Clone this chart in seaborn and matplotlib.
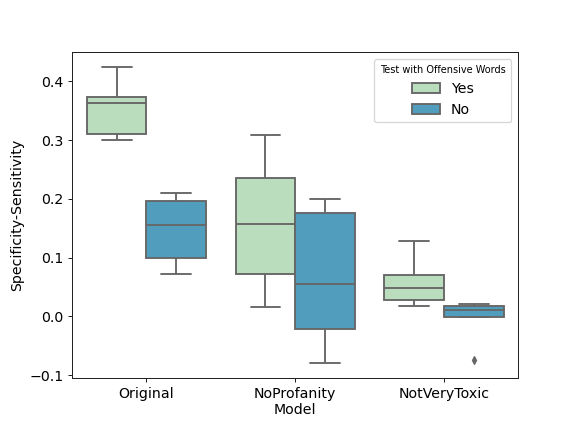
import matplotlib
matplotlib.use("Agg")
import matplotlib.pyplot as plt
import pandas as pd
import seaborn as sns

sns.set_style("white")
plt.rcParams['font.family'] = ['DejaVu Sans']
plt.rcParams['text.color'] = 'black'
plt.rcParams['axes.labelcolor'] = 'black'
plt.rcParams['xtick.color'] = 'black'
plt.rcParams['ytick.color'] = 'black'

models = ['Original', 'NoProfanity', 'NotVeryToxic']
hue_levels = ['Yes', 'No']

# five-number samples per box (min, q1, median, q3, max)
original_yes = [0.300, 0.311, 0.363, 0.373, 0.425]
original_no = [0.0715, 0.100, 0.156, 0.196, 0.210]
noprof_yes = [0.0153, 0.072, 0.157, 0.236, 0.308]
noprof_no = [-0.0795, -0.0216, 0.0545, 0.1755, 0.200]
nvt_yes = [0.0176, 0.028, 0.048, 0.070, 0.128]
nvt_no = [-0.074, -0.001, 0.0108, 0.017, 0.021]

samples = {
    ('Original', 'Yes'): original_yes,
    ('Original', 'No'): original_no,
    ('NoProfanity', 'Yes'): noprof_yes,
    ('NoProfanity', 'No'): noprof_no,
    ('NotVeryToxic', 'Yes'): nvt_yes,
    ('NotVeryToxic', 'No'): nvt_no,
}

rows = []
for (m, h), vals in samples.items():
    for v in vals:
        rows.append({'Model': m, 'Test with Offensive Words': h, 'Specificity-Sensitivity': v})
df = pd.DataFrame(rows)

fig, ax = plt.subplots(figsize=(6.4, 4.8), dpi=90)
fig.subplots_adjust(left=0.125, right=0.9, bottom=0.125, top=0.88)
sns.boxplot(data=df, x='Model', y='Specificity-Sensitivity', hue='Test with Offensive Words',
            order=models, hue_order=hue_levels, palette=['#b9ddbd', '#519dbd'],
            saturation=1, linecolor='#666666', linewidth=1.5, width=0.8,
            flierprops={'marker': 'd', 'markerfacecolor': '#666666', 'markeredgecolor': '#666666',
                        'markersize': 4.5}, ax=ax)

for s in ax.spines.values():
    s.set_color('#222222')
ax.tick_params(axis='both', labelsize=11.3, left=True, bottom=True, length=3.5, color='#222222')
ax.set_xlabel('Model', fontsize=11.3, labelpad=2)
ax.set_ylabel('Specificity-Sensitivity', fontsize=11.3)
ax.legend(title='Test with Offensive Words', loc='upper right', fontsize=11.3, title_fontsize=7.8)

fig.savefig('out.png', dpi=90)
